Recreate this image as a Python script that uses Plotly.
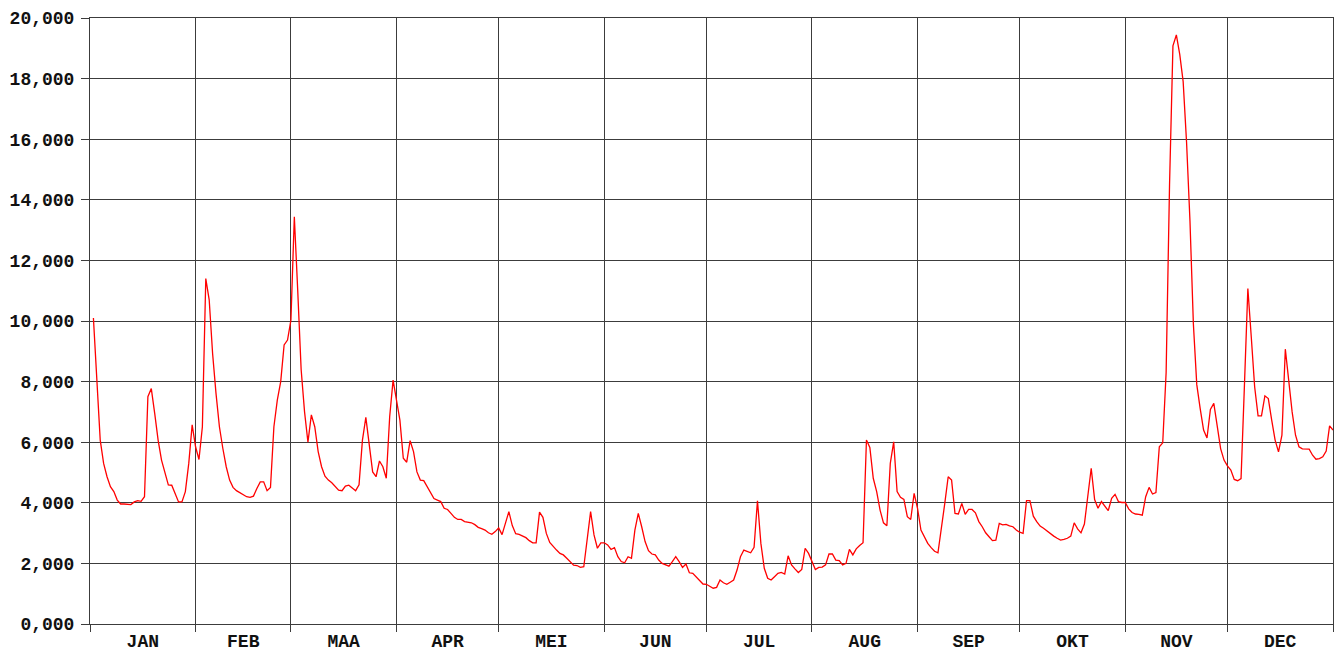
import plotly.graph_objects as go

months = ["JAN", "FEB", "MAA", "APR", "MEI", "JUN", "JUL", "AUG", "SEP", "OKT", "NOV", "DEC"]

jan = [10100, 8050, 6070, 5300, 4860, 4530, 4370, 4090, 3960, 3960, 3960, 3940, 4030, 4070, 4050, 4200,
       7500, 7770, 6950, 6070, 5410, 4970, 4590, 4580, 4310, 4030, 4030, 4370, 5300, 6570, 5850]
feb = [5430, 6510, 11400, 10700, 8930, 7610, 6510, 5800, 5190, 4750, 4510, 4400, 4330, 4270, 4200, 4180,
       4220, 4470, 4690, 4690, 4400, 4510, 6510, 7390, 8000, 9210, 9370, 10030]
maa = [13440, 11000, 8400, 7000, 6000, 6900, 6510, 5690, 5190, 4880, 4750, 4660, 4550, 4420, 4400, 4550,
       4580, 4490, 4400, 4590, 6070, 6820, 5960, 5020, 4860, 5380, 5190, 4810, 6840, 8050, 7390]
apr = [6730, 5470, 5340, 6050, 5690, 5020, 4750, 4730, 4530, 4330, 4140, 4090, 4040, 3820, 3780, 3650,
       3520, 3450, 3450, 3380, 3360, 3340, 3280, 3190, 3150, 3100, 3010, 2960, 3050, 3170]
mei = [2950, 3350, 3710, 3250, 2980, 2960, 2900, 2850, 2750, 2680, 2680, 3690, 3520, 2990, 2690, 2550,
       2440, 2330, 2280, 2170, 2060, 1940, 1930, 1870, 1890, 2770, 3710, 2940, 2500, 2680, 2680]
jun = [2610, 2460, 2520, 2220, 2060, 2020, 2220, 2170, 3100, 3650, 3210, 2720, 2420, 2310, 2280, 2110,
       2000, 1950, 1910, 2060, 2220, 2060, 1870, 1980, 1690, 1670, 1560, 1450, 1320, 1310]
jul = [1250, 1180, 1210, 1450, 1360, 1310, 1380, 1450, 1780, 2220, 2440, 2390, 2350, 2530, 4070, 2660,
       1840, 1510, 1450, 1560, 1670, 1700, 1650, 2250, 1950, 1820, 1700, 1800, 2500, 2330, 2040]
aug = [1800, 1870, 1880, 1950, 2310, 2310, 2110, 2090, 1950, 2000, 2460, 2280, 2480, 2590, 2680, 6070,
       5830, 4810, 4370, 3760, 3340, 3240, 5300, 6010, 4370, 4180, 4110, 3540, 3450, 4310, 3820]
sep = [3100, 2860, 2660, 2520, 2400, 2350, 3100, 3980, 4860, 4750, 3650, 3630, 3980, 3620, 3780, 3780,
       3670, 3380, 3210, 3010, 2880, 2750, 2770, 3320, 3270, 3290, 3240, 3210, 3100, 3030]
okt = [2990, 4070, 4070, 3560, 3380, 3230, 3160, 3070, 2970, 2900, 2830, 2770, 2790, 2830, 2900, 3340,
       3140, 3010, 3300, 4310, 5140, 4110, 3820, 4040, 3870, 3740, 4150, 4280, 4040, 4010, 4010]
nov = [3800, 3680, 3630, 3620, 3590, 4200, 4510, 4290, 4340, 5850, 5980, 8300, 14500, 19080, 19440, 18800,
       17900, 15900, 13300, 9900, 7900, 7110, 6400, 6140, 7080, 7280, 6560, 5790, 5410, 5220]
dec = [5080, 4770, 4730, 4800, 7900, 11070, 9470, 7820, 6870, 6870, 7530, 7440, 6730, 6070, 5680, 6230,
       9070, 7930, 7000, 6230, 5850, 5780, 5780, 5770, 5570, 5440, 5460, 5520, 5710, 6540, 6400]

y_ticks = [0, 2000, 4000, 6000, 8000, 10000, 12000, 14000, 16000, 18000, 20000]
y_labels = ["0,000", "2,000", "4,000", "6,000", "8,000", "10,000", "12,000", "14,000", "16,000", "18,000", "20,000"]

series = jan + feb + maa + apr + mei + jun + jul + aug + sep + okt + nov + dec
month_lists = [jan, feb, maa, apr, mei, jun, jul, aug, sep, okt, nov, dec]
bounds = [0]
for m in month_lists:
    bounds.append(bounds[-1] + len(m))
mids = [(bounds[i] + bounds[i + 1]) / 2 for i in range(12)]
days = list(range(1, len(series) + 1))

grid = "#3c3c3c"
font = dict(family="Liberation Mono, Courier New, monospace", size=18, color="#111", weight=700)

fig = go.Figure(go.Scatter(x=days, y=series, mode="lines",
                           line=dict(color="#ff0000", width=1.3), hoverinfo="skip"))

# the page body has an 8px default margin, so the figure is sized/offset to compensate
fig.update_layout(
    width=1335, height=641,
    margin=dict(l=82, r=10, t=10, b=25),
    paper_bgcolor="white", plot_bgcolor="white",
    showlegend=False,
)
fig.update_xaxes(
    range=[0, bounds[-1]], tickmode="array", tickvals=mids, ticktext=months,
    showgrid=False, ticks="", tickfont=font, zeroline=False, automargin=False,
    showline=True, mirror=True, linecolor=grid, linewidth=1,
    minor=dict(tickmode="array", tickvals=bounds, showgrid=True, gridcolor=grid, gridwidth=1,
               ticks="outside", ticklen=7, tickcolor=grid, tickwidth=1),
)
fig.update_yaxes(
    range=[0, 20000], tickmode="array", tickvals=y_ticks, ticktext=y_labels,
    showgrid=True, gridcolor=grid, gridwidth=1, zeroline=False, automargin=False,
    ticks="outside", ticklen=8, tickcolor=grid, tickwidth=1, tickfont=font,
    ticklabelstandoff=3,
    showline=True, mirror=True, linecolor=grid, linewidth=1,
)

fig.write_html("out.html")
